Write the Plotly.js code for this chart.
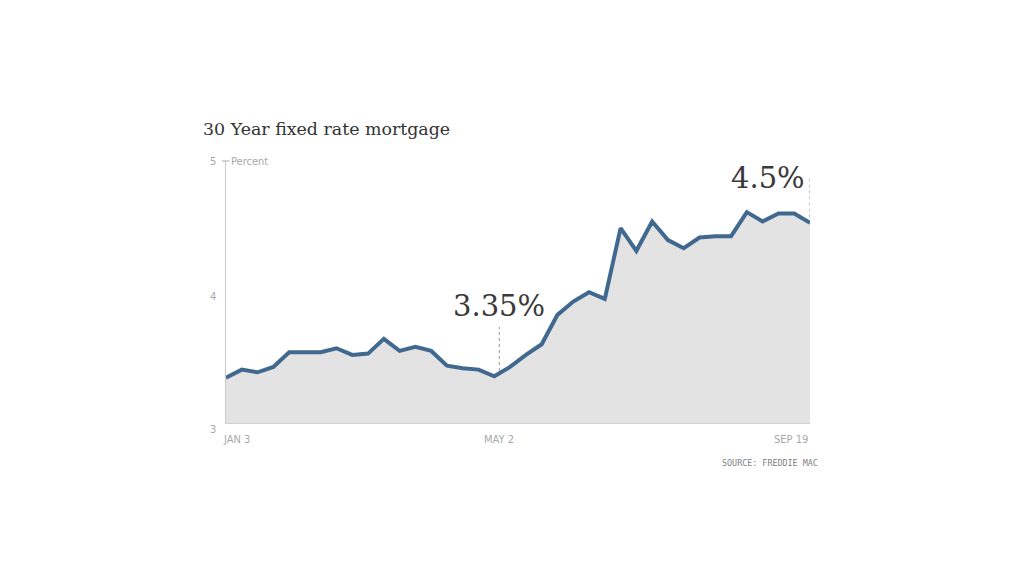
<!DOCTYPE html>
<html>
<head>
<meta charset="utf-8">
<script src="https://cdn.plot.ly/plotly-3.0.1.min.js"></script>
<style>html,body{margin:0;padding:0;background:#fff;}#chart{width:1024px;height:576px;}</style>
</head>
<body>
<div id="chart"></div>
<script>
// Weekly 30-year fixed rate, 2013 (percent)
var weeks = ["2013-01-03","2013-01-10","2013-01-17","2013-01-24","2013-01-31","2013-02-07","2013-02-14","2013-02-21","2013-02-28","2013-03-07","2013-03-14","2013-03-21","2013-03-28","2013-04-04","2013-04-11","2013-04-18","2013-04-25","2013-05-02","2013-05-09","2013-05-16","2013-05-23","2013-05-30","2013-06-06","2013-06-13","2013-06-20","2013-06-27","2013-07-04","2013-07-11","2013-07-18","2013-07-25","2013-08-01","2013-08-08","2013-08-15","2013-08-22","2013-08-29","2013-09-05","2013-09-12","2013-09-19"];
var rates = [3.34,3.40,3.38,3.42,3.53,3.53,3.53,3.56,3.51,3.52,3.63,3.54,3.57,3.54,3.43,3.41,3.40,3.35,3.42,3.51,3.59,3.81,3.91,3.98,3.93,4.46,4.29,4.51,4.37,4.31,4.39,4.40,4.40,4.58,4.51,4.57,4.57,4.50];
var xTickVals = ["2013-01-03","2013-05-02","2013-09-19"];
var xTickText = ["JAN 3","MAY 2","SEP 19"];
var yTickVals = [3,4,5];
var yTickText = ["3","4","5"];
var calloutDates = ["2013-05-02","2013-09-19"];
var calloutValues = [3.35,4.50];
var calloutText = ["3.35%","4.5%"];

var yMin = 3, yMax = 4.963;
var narrow = '"Liberation Sans Narrow","DejaVu Sans Condensed",Roboto,Arial,sans-serif';
var serif = '"DejaVu Serif","Liberation Serif",Georgia,serif';

var trace = {
  x: weeks, y: rates, type: 'scatter', mode: 'lines',
  line: {color: '#41698f', width: 4},
  fill: 'tozeroy', fillcolor: '#e3e3e3',
  hoverinfo: 'skip'
};

var annotations = [];
var anchors = ['left','center','right'];
var xshifts = [-5, 5, 0];
xTickVals.forEach(function(v,i){
  annotations.push({x:v, xref:'x', y:0, yref:'paper', yshift:-8, xshift:xshifts[i], text:xTickText[i], showarrow:false,
    xanchor:anchors[i], yanchor:'top',
    font:{family:narrow, size:11, color:'#a8a8a8'}});
});
// y tick labels placed evenly along the axis, as in the original
yTickVals.forEach(function(v,i){
  var isTop = (i === yTickVals.length-1);
  annotations.push({x:0, xref:'paper', y:(v-yTickVals[0])/(yTickVals[yTickVals.length-1]-yTickVals[0]), yref:'paper',
    xshift:-8, yshift: isTop ? 0 : (i===0 ? -6 : -4), text:yTickText[i], showarrow:false, xanchor:'right', yanchor:'middle',
    font:{family:narrow, size:11, color:'#a8a8a8'}});
});
annotations.push({x:0, xref:'paper', y:1, yref:'paper', xshift:3, text:'Percent', showarrow:false, xanchor:'left', yanchor:'middle',
  font:{family:narrow, size:11, color:'#a8a8a8'}});
var shapes = [
  {type:'line', xref:'x domain', yref:'paper', x0:-0.007, x1:0.006, y0:1, y1:1, line:{color:'#aaaaaa', width:1}}
];
var lineTops = [3.72, 4.835];
var textYs = [3.72, 4.68];
var textAnch = ['center','right'];
var textShift = [5, -3];
calloutDates.forEach(function(d,i){
  shapes.push({type:'line', xref:'x', xsizemode:'pixel', xanchor:d, x0:i===0?5:0, x1:i===0?5:0,
    yref:'y', y0:calloutValues[i]+0.04, y1:lineTops[i], line:{color:'#999999', width:1, dash:'dot'}});
  annotations.push({x:d, xref:'x', y:textYs[i], yref:'y', yshift:2, xshift:textShift[i], text:calloutText[i], showarrow:false,
    xanchor:textAnch[i], yanchor:'bottom',
    font:{family:serif, size:29, color:'#3a3a3a'}});
});
annotations.push({x:1, xref:'paper', y:0, yref:'paper', xshift:10, yshift:-33, text:'SOURCE: FREDDIE MAC', showarrow:false,
  xanchor:'right', yanchor:'top',
  font:{family:'"DejaVu Sans Mono",monospace', size:8.4, color:'#808080'}});

var layout = {
  width:1024, height:576,
  margin:{l:226, r:214, t:161, b:153},
  paper_bgcolor:'#ffffff', plot_bgcolor:'#ffffff',
  showlegend:false,
  title:{text:'30 Year fixed rate mortgage', x:203/1024, xanchor:'left', y:1-129/576, yanchor:'middle',
    font:{family:serif, size:17.4, color:'#333333'}},
  xaxis:{type:'date', range:[weeks[0], weeks[weeks.length-1]], showgrid:false, zeroline:false,
    showticklabels:false, ticks:'', showline:true, linecolor:'#d0d0d0', linewidth:1, fixedrange:true},
  yaxis:{range:[yMin,yMax], showgrid:false, zeroline:false, showticklabels:false,
    ticks:'', showline:true, linecolor:'#c8c8c8', linewidth:1, fixedrange:true},
  annotations:annotations,
  shapes:shapes
};
Plotly.newPlot('chart', [trace], layout, {displayModeBar:false, staticPlot:true});
</script>
</body>
</html>
